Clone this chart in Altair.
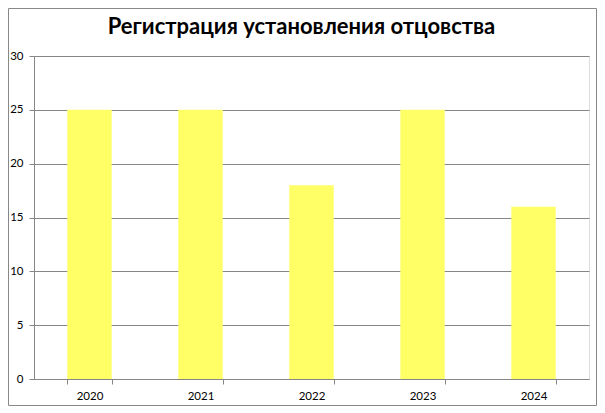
import altair as alt
import pandas as pd

years = ["2020", "2021", "2022", "2023", "2024"]
values = [25, 25, 18, 25, 16]
title_text = ["Регистрация установления отцовства"]

df = pd.DataFrame({"year": years, "value": values})

W, H = 555, 323
PL, PT, PR, PB = 26, 48, 8, 27

bars = alt.Chart(df).mark_bar(color="#FFFF66").encode(
    x=alt.X("year:N", sort=years, title=None,
            scale=alt.Scale(paddingInner=0.6, paddingOuter=0.3),
            axis=alt.Axis(labelAngle=0, tickBand="extent", domainColor="#868686",
                          tickColor="#868686", tickSize=5, labelPadding=6,
                          labelFont="Lato", labelFontSize=11.5, labelColor="#000000",
                          grid=False)),
    y=alt.Y("value:Q", title=None,
            scale=alt.Scale(domain=[0, 30], nice=False),
            axis=alt.Axis(values=[0, 5, 10, 15, 20, 25, 30], grid=True,
                          gridColor="#868686", domainColor="#868686",
                          tickColor="#868686", tickSize=5, labelPadding=6,
                          labelFont="Lato", labelFontSize=11.5, labelColor="#000000")),
)

border = alt.Chart(pd.DataFrame({"a": [0]})).mark_rect(
    fill=None, stroke="#888888", strokeWidth=1
).encode(
    x=alt.value(-PL + 0.5), x2=alt.value(W + PR - 0.5),
    y=alt.value(-PT + 0.5), y2=alt.value(H + PB - 0.5),
)

title = alt.Chart(pd.DataFrame({"t": title_text})).mark_text(
    font="Lato", fontSize=22, fontWeight="bold", color="#000000",
    align="center", baseline="alphabetic",
).encode(
    text="t:N", x=alt.value(W / 2 - 10), y=alt.value(-22),
)

chart = alt.layer(bars, border, title).properties(
    width=W, height=H,
    padding={"left": PL, "top": PT, "right": PR, "bottom": PB},
    autosize=alt.AutoSizeParams(type="none"),
).configure_view(stroke=None).configure(background="white")

chart.save("out.html", embed_options={"renderer": "svg", "actions": False})
